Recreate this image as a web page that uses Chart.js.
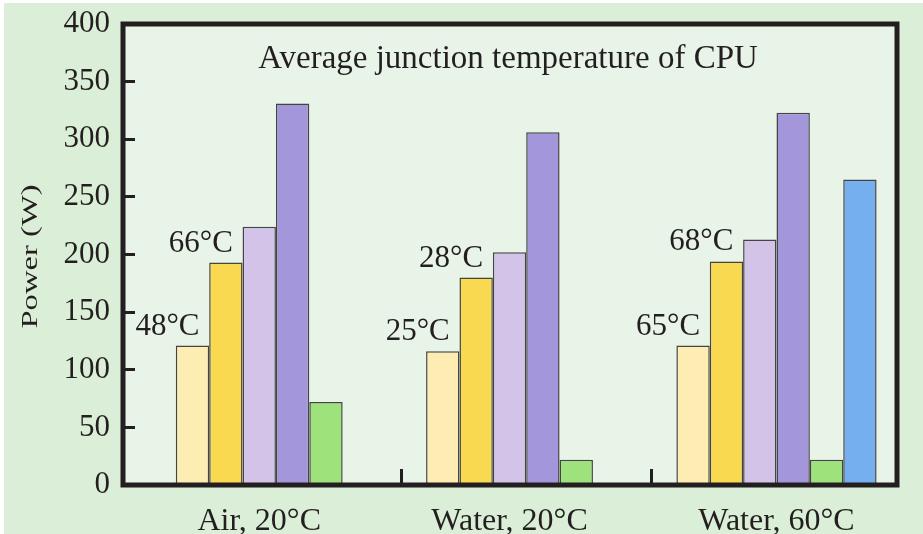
<!DOCTYPE html>
<html>
<head>
<meta charset="utf-8">
<script src="https://cdn.jsdelivr.net/npm/chart.js@4.4.1/dist/chart.umd.min.js"></script>
<style>
html,body{margin:0;padding:0;background:#fff;}
#wrap{width:923px;height:534px;position:relative;}
canvas{display:block;}
</style>
</head>
<body>
<div id="wrap"><canvas id="c" width="923" height="534"></canvas></div>
<script>
// ---- data ----
const categories = ['Air, 20°C', 'Water, 20°C', 'Water, 60°C'];
const seriesLightYellow = [121, 116, 121];
const seriesGold        = [193, 180, 194];
const seriesLavender    = [224, 202, 213];
const seriesPurple      = [331, 306, 323];
const seriesGreen       = [72, 22, 22];
const seriesBlue        = [null, null, 265];
const tempLabelsLightYellow = ['48°C', '25°C', '65°C'];
const tempLabelsGold        = ['66°C', '28°C', '68°C'];
const yTickValues = [0, 50, 100, 150, 200, 250, 300, 350, 400];
const chartTitle = 'Average junction temperature of CPU';
const yAxisTitle = 'Power (W)';

// ---- styles ----
const INK = '#231f20';
const SERIF = '"Liberation Serif", "Times New Roman", serif';
const colors = ['#fdedb3', '#f9d94f', '#d4c3e8', '#a396da', '#9de27b', '#75aff0'];
const seriesList = [seriesLightYellow, seriesGold, seriesLavender, seriesPurple, seriesGreen, seriesBlue];
const tempLabelSets = [tempLabelsLightYellow, tempLabelsGold];

const datasets = seriesList.map((s, i) => ({
  data: s,
  backgroundColor: colors[i],
  borderColor: '#444444',
  borderWidth: 1.5,
  categoryPercentage: 0.8,
  barPercentage: 1.0
}));

const decorPlugin = {
  id: 'decor',
  beforeDraw(chart) {
    const {ctx, chartArea: a, width, height} = chart;
    ctx.save();
    ctx.fillStyle = '#ffffff';
    ctx.fillRect(0, 0, width, height);
    ctx.fillStyle = '#dbeed7';
    ctx.fillRect(4, 3, width - 4, height - 3);
    ctx.fillStyle = '#e9f4e8';
    ctx.fillRect(a.left, a.top, a.right - a.left, a.bottom - a.top);
    ctx.restore();
  },
  afterDatasetsDraw(chart) {
    const {ctx} = chart;
    ctx.save();
    ctx.font = '31px ' + SERIF;
    ctx.fillStyle = INK;
    ctx.textAlign = 'right';
    ctx.textBaseline = 'alphabetic';
    tempLabelSets.forEach((labels, d) => {
      const meta = chart.getDatasetMeta(d);
      meta.data.forEach((el, i) => {
        if (labels[i] == null) return;
        ctx.fillText(labels[i], el.x + 7, el.y - 11);
      });
    });
    ctx.restore();
  },
  afterDraw(chart) {
    const {ctx, chartArea: a} = chart;
    ctx.save();
    // frame
    ctx.strokeStyle = INK;
    ctx.lineWidth = 5;
    ctx.strokeRect(a.left, a.top, a.right - a.left, a.bottom - a.top);
    ctx.fillStyle = INK;
    ctx.textAlign = 'center';
    ctx.textBaseline = 'alphabetic';
    // title inside plot
    ctx.font = '33px ' + SERIF;
    ctx.fillText(chartTitle, (a.left + a.right) / 2 - 2, a.top + 44);
    // category labels centred under visible bars of each group
    ctx.font = '32px ' + SERIF;
    categories.forEach((cat, i) => {
      let lo = Infinity, hi = -Infinity;
      seriesList.forEach((s, d) => {
        if (s[i] == null) return;
        const el = chart.getDatasetMeta(d).data[i];
        lo = Math.min(lo, el.x - el.width / 2);
        hi = Math.max(hi, el.x + el.width / 2);
      });
      ctx.fillText(cat, (lo + hi) / 2, a.bottom + 45);
    });
    // y axis title (rotated)
    ctx.translate(37, (a.top + a.bottom) / 2 + 2);
    ctx.rotate(-Math.PI / 2);
    ctx.scale(1.42, 1);
    ctx.font = '23px ' + SERIF;
    ctx.fillText(yAxisTitle, 0, 0);
    ctx.restore();
  }
};

new Chart(document.getElementById('c'), {
  type: 'bar',
  data: { labels: categories, datasets },
  plugins: [decorPlugin],
  options: {
    responsive: false,
    animation: false,
    events: [],
    layout: { padding: { left: 0, right: 26, top: 24, bottom: 0 } },
    plugins: { legend: { display: false }, tooltip: { enabled: false }, title: { display: false } },
    scales: {
      x: {
        type: 'category',
        offset: true,
        border: { display: false },
        grid: {
          offset: true,
          drawOnChartArea: false,
          drawTicks: true,
          tickLength: -16,
          tickWidth: 3,
          tickColor: (c) => (c.index === 1 || c.index === 2) ? INK : 'rgba(0,0,0,0)'
        },
        ticks: { display: false },
        afterBuildTicks: (s) => { s._startValue = -0.611; s._valueRange = 3.0925; },
        afterFit: (s) => { s.height = 49; s.paddingLeft = 0; s.paddingRight = 0; }
      },
      y: {
        min: 0,
        max: 400,
        border: { display: false },
        grid: {
          drawOnChartArea: false,
          drawTicks: true,
          tickLength: -12,
          tickWidth: 3,
          tickColor: INK
        },
        afterBuildTicks: (s) => { s.ticks = yTickValues.map(v => ({ value: v })); },
        ticks: {
          padding: 25,
          color: INK,
          font: { family: SERIF, size: 31 }
        },
        afterFit: (s) => { s.width = 123; s.paddingTop = 0; s.paddingBottom = 0; }
      }
    }
  }
});
</script>
</body>
</html>
